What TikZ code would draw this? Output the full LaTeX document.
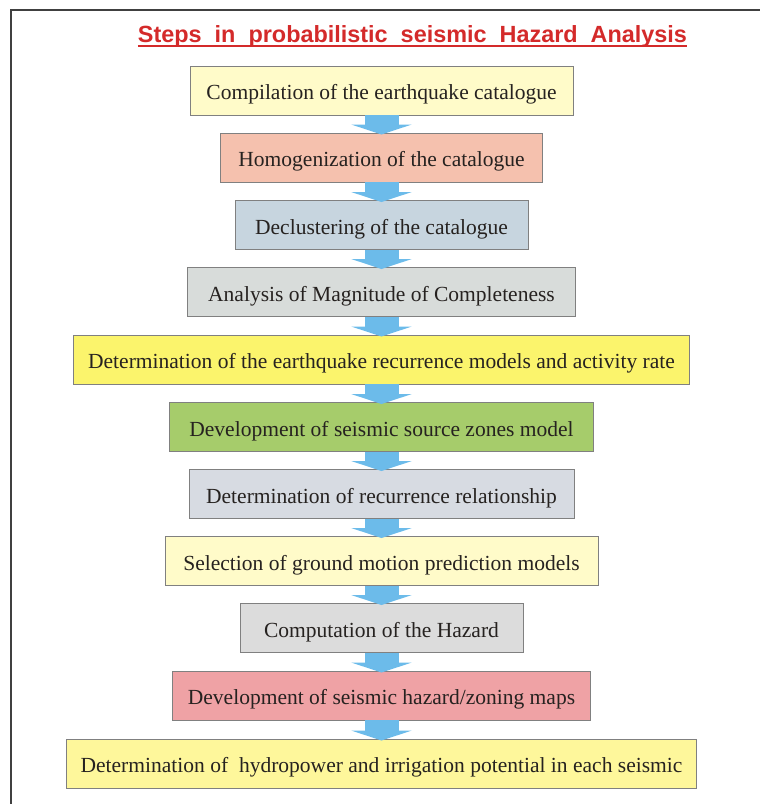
\documentclass[tikz,border=0pt]{standalone}
\usepackage{fontspec}
\setmainfont{Liberation Serif}
\newfontfamily\titlefont{Liberation Sans}
\usetikzlibrary{arrows.meta,calc}
\definecolor{framegray}{HTML}{404040}
\definecolor{titlered}{HTML}{D42A2A}
\definecolor{arrowblue}{HTML}{6CBBEA}
\definecolor{txt}{HTML}{262220}
\definecolor{cA}{HTML}{FFFBC9}
\definecolor{cB}{HTML}{F5C1AE}
\definecolor{cC}{HTML}{C7D5DF}
\definecolor{cD}{HTML}{D8DCDA}
\definecolor{cE}{HTML}{FBF46C}
\definecolor{cF}{HTML}{A6CC6B}
\definecolor{cG}{HTML}{D7DBE2}
\definecolor{cH}{HTML}{FFFBC9}
\definecolor{cI}{HTML}{DCDCDC}
\definecolor{cJ}{HTML}{EFA2A5}
\definecolor{cK}{HTML}{FEF79B}
\tikzset{
  stepbox/.style={draw=black!50, line width=0.9bp, minimum height=49bp, inner sep=0pt,
    text height=23bp, text depth=5bp,
    font=\fontsize{21.6}{24}\selectfont, text=txt, anchor=center},
  flowarrow/.style={draw=arrowblue, line width=34bp,
    -{Triangle[width=60bp,length=10bp]}, shorten >=-2bp},
}
\begin{document}
\begin{tikzpicture}[x=1bp,y=-1bp]
\useasboundingbox (0,0) rectangle (760,804);
\fill[white] (0,0) rectangle (760,804);
\draw[framegray, line width=2.2bp] (760,10) -- (11,10) -- (11,804);
\node[inner sep=0pt, text=titlered, font=\titlefont\bfseries\fontsize{23.5}{26}\selectfont] (title) at (412.5,36)
  {Steps\hspace{13bp}in\hspace{13bp}probabilistic\hspace{13bp}seismic\hspace{13bp}Hazard\hspace{13bp}Analysis};
\draw[titlered, line width=1.5bp] ($(title.base west)+(0,4)$) -- ($(title.base east)+(0,4)$);
\node[stepbox, fill=cA, minimum width=383bp] (b1) at (381.5,90.5) {Compilation of the earthquake catalogue};
\node[stepbox, fill=cB, minimum width=322bp] (b2) at (381.5,157.5) {Homogenization of the catalogue};
\node[stepbox, fill=cC, minimum width=293bp] (b3) at (381.5,225) {Declustering of the catalogue};
\node[stepbox, fill=cD, minimum width=388bp] (b4) at (381.5,292) {Analysis of Magnitude of Completeness};
\node[stepbox, fill=cE, minimum width=616bp] (b5) at (381.5,359.5) {Determination of the earthquake recurrence models and activity rate};
\node[stepbox, fill=cF, minimum width=424bp] (b6) at (381.5,427) {Development of seismic source zones model};
\node[stepbox, fill=cG, minimum width=385bp] (b7) at (381.5,494) {Determination of recurrence relationship};
\node[stepbox, fill=cH, minimum width=433bp] (b8) at (381.5,561) {Selection of ground motion prediction models};
\node[stepbox, fill=cI, minimum width=283bp] (b9) at (381.5,628) {Computation of the Hazard};
\node[stepbox, fill=cJ, minimum width=418bp] (b10) at (381.5,695.5) {Development of seismic hazard/zoning maps};
\node[stepbox, fill=cK, minimum width=630bp] (b11) at (381.5,763.5) {Determination of\ \ hydropower and irrigation potential in each seismic};
\foreach \a/\b in {b1/b2,b2/b3,b3/b4,b4/b5,b5/b6,b6/b7,b7/b8,b8/b9,b9/b10,b10/b11}
  \draw[flowarrow] (\a.south) -- (\b.north);
\end{tikzpicture}
\end{document}
